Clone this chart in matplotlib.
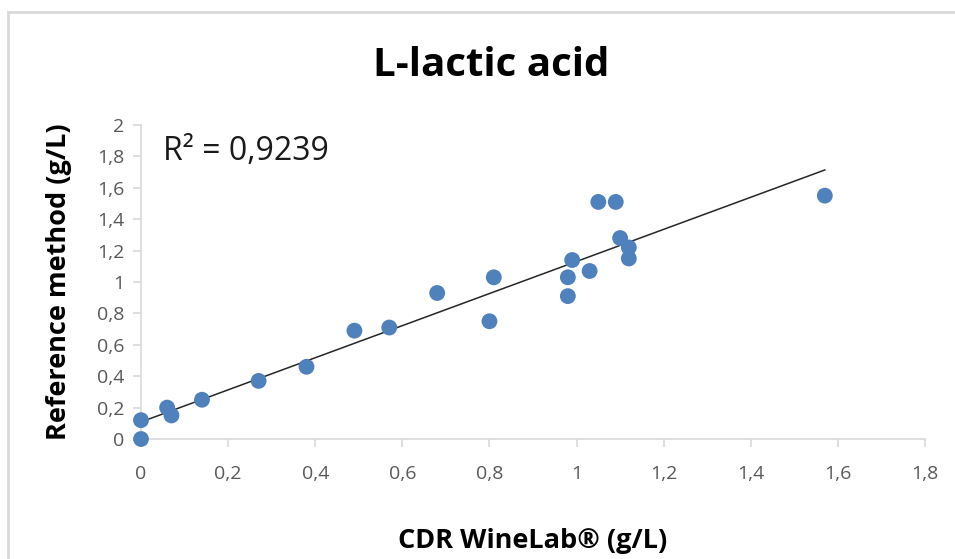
import matplotlib
matplotlib.use("Agg")
from matplotlib import pyplot as plt
from matplotlib.patches import Rectangle
import numpy as np

# CDR WineLab (x) vs reference method (y), g/L
cdr = [0.00, 0.00, 0.06, 0.07, 0.14, 0.27, 0.38, 0.49, 0.57, 0.68, 0.80,
       0.81, 0.98, 0.98, 0.99, 1.03, 1.05, 1.09, 1.10, 1.12, 1.12, 1.57]
ref = [0.00, 0.12, 0.20, 0.15, 0.25, 0.37, 0.46, 0.69, 0.71, 0.93, 0.75,
       1.03, 0.91, 1.03, 1.14, 1.07, 1.51, 1.51, 1.28, 1.22, 1.15, 1.55]
xticks = [0, 0.2, 0.4, 0.6, 0.8, 1, 1.2, 1.4, 1.6, 1.8]
yticks = [0, 0.2, 0.4, 0.6, 0.8, 1, 1.2, 1.4, 1.6, 1.8, 2]
r2_text = "R² = 0,9239"

plt.rcParams['font.family'] = ['Open Sans', 'DejaVu Sans']

fig = plt.figure(figsize=(9.55, 5.59), dpi=100)
W, H = 955, 559
ax = fig.add_axes([141 / W, 1 - 439 / H, (925 - 141) / W, (439 - 125) / H])

# outer chart border (only top and left edges are visible)
fig.patches.append(Rectangle((8 / W, -0.1), 1.2, 1 - 12 / H + 0.1,
                             transform=fig.transFigure, fill=False,
                             edgecolor='#d9d9d9', linewidth=2))

x = np.array(cdr)
y = np.array(ref)
k, b = np.polyfit(x, y, 1)
xl = np.array([x.min(), x.max()])
ax.plot(xl, k * xl + b, color='#262626', linewidth=1.1, zorder=2)
ax.scatter(x, y, s=130, color='#4f81bd', edgecolors='none', zorder=3,
           clip_on=False)

ax.set_xlim(0, 1.8)
ax.set_ylim(0, 2)
ax.set_xticks(xticks)
ax.set_yticks(yticks)
fmt = lambda v: ('%g' % v).replace('.', ',')
ax.set_xticklabels([fmt(v) for v in xticks])
ax.set_yticklabels([fmt(v) for v in yticks])
ax.tick_params(colors='#d9d9d9', labelcolor='#595959', labelsize=14,
               length=6, width=1.2, direction='out')
ax.tick_params(axis='x', pad=13)
ax.tick_params(axis='y', pad=6)
for s in ['top', 'right']:
    ax.spines[s].set_visible(False)
for s in ['left', 'bottom']:
    ax.spines[s].set_color('#d9d9d9')
    ax.spines[s].set_linewidth(1.2)

ax.set_xlabel('CDR WineLab® (g/L)', fontsize=19.5, fontweight='bold',
              labelpad=32)
ax.set_ylabel('Reference method (g/L)', fontsize=19.5, fontweight='bold',
              labelpad=18)
fig.text(491 / W, 1 - 65 / H, 'L-lactic acid', fontsize=29,
         fontweight='bold', ha='center', va='center')
ax.text(0.05, 1.83, r2_text, fontsize=23, color='#1a1a1a',
        ha='left', va='center')

fig.savefig('out.png', dpi=100, facecolor='white')
